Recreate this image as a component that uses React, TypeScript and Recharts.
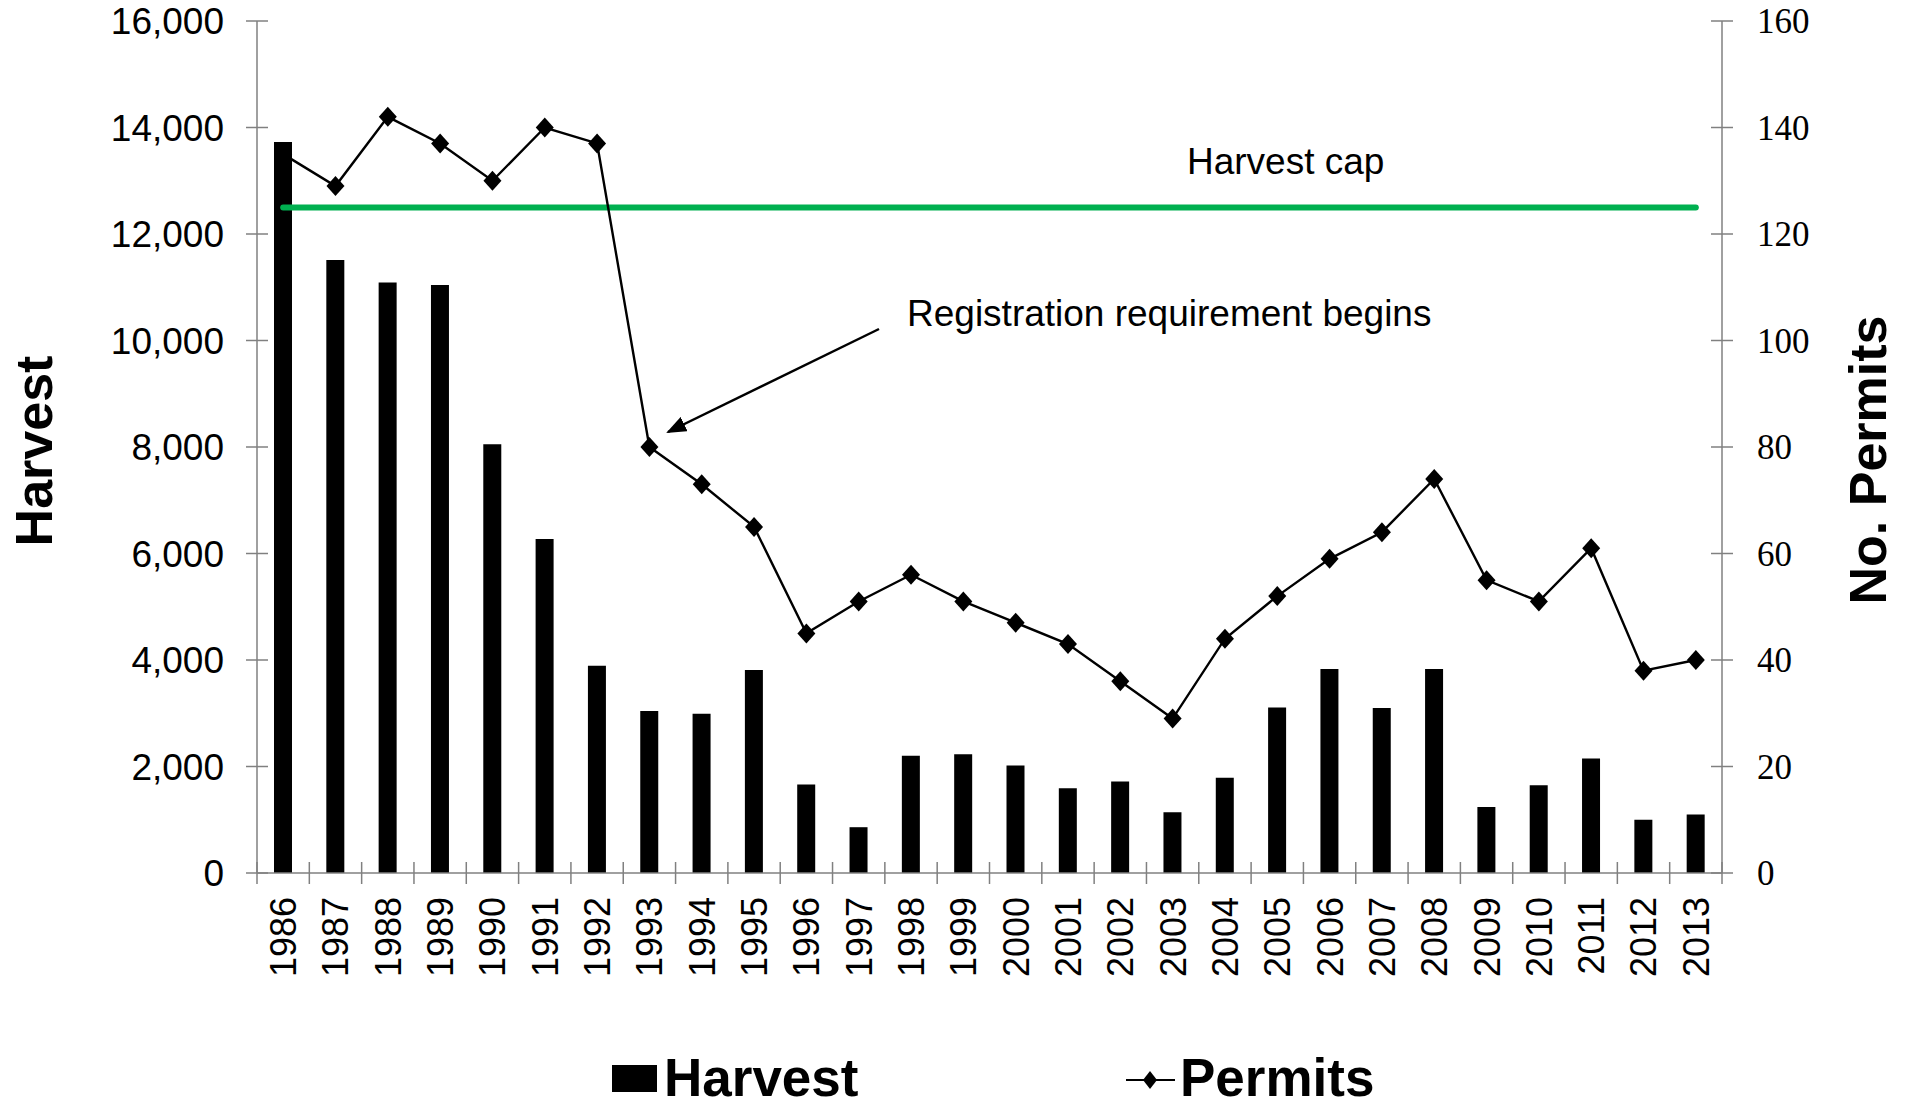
import { ComposedChart, Bar, Line, XAxis, YAxis, Legend } from 'recharts'

// Annual values
const years = [
  '1986', '1987', '1988', '1989', '1990', '1991', '1992', '1993', '1994', '1995',
  '1996', '1997', '1998', '1999', '2000', '2001', '2002', '2003', '2004', '2005',
  '2006', '2007', '2008', '2009', '2010', '2011', '2012', '2013'
]
const harvest = [
  13730, 11510, 11090, 11040, 8050, 6270, 3890, 3040, 2990, 3810,
  1660, 860, 2200, 2230, 2020, 1590, 1720, 1140, 1790, 3110,
  3830, 3100, 3830, 1240, 1650, 2150, 1000, 1100
]
const permits = [
  135, 129, 142, 137, 130, 140, 137, 80, 73, 65,
  45, 51, 56, 51, 47, 43, 36, 29, 44, 52,
  59, 64, 74, 55, 51, 61, 38, 40
]
const harvestCap = 12500
const harvestTicks = [0, 2000, 4000, 6000, 8000, 10000, 12000, 14000, 16000]
const permitTicks = [0, 20, 40, 60, 80, 100, 120, 140, 160]

const data = years.map((year, i) => ({
  year,
  harvest: harvest[i],
  permits: permits[i],
  cap: harvestCap
}))

const W = 1909
const H = 1107
const LEFT_W = 257
const RIGHT_W = 187
const TOP = 21
const X_H = 174
const LEGEND_H = 60
const band = (W - LEFT_W - RIGHT_W) / years.length
const plotBottom = H - X_H - LEGEND_H

const AXIS = '#808080'
const SANS = '"Liberation Sans", Arial, sans-serif'
const SERIF = '"Liberation Serif", "Times New Roman", serif'

function LeftTick({ x, y, payload }: any) {
  return (
    <g>
      <line x1={x - 11} x2={x + 11} y1={y} y2={y} stroke={AXIS} strokeWidth={1.5} />
      <text x={x - 33} y={y} dy={13} textAnchor="end" fontFamily={SANS} fontSize={37} fill="#000">
        {Number(payload.value).toLocaleString('en-US')}
      </text>
    </g>
  )
}

function RightTick({ x, y, payload }: any) {
  return (
    <g>
      <line x1={x - 11} x2={x + 11} y1={y} y2={y} stroke={AXIS} strokeWidth={1.5} />
      <text x={x + 35} y={y} dy={12} textAnchor="start" fontFamily={SERIF} fontSize={35} fill="#000">
        {payload.value}
      </text>
    </g>
  )
}

function YearTick({ x, y, payload, index }: any) {
  const left = x - band / 2
  const ty = y + 24
  return (
    <g>
      <line x1={left} x2={left} y1={y - 11} y2={y + 11} stroke={AXIS} strokeWidth={1.5} />
      {index === years.length - 1 && (
        <line x1={x + band / 2} x2={x + band / 2} y1={y - 11} y2={y + 11} stroke={AXIS} strokeWidth={1.5} />
      )}
      <text
        x={x}
        y={ty}
        dy="0.36em"
        transform={`rotate(-90, ${x}, ${ty})`}
        textAnchor="end"
        fontFamily={SANS}
        fontSize={36}
        fill="#000"
      >
        {payload.value}
      </text>
    </g>
  )
}

function Diamond({ cx, cy }: any) {
  if (cx == null || cy == null) return null
  return (
    <polygon
      points={`${cx},${cy - 10} ${cx + 9},${cy} ${cx},${cy + 10} ${cx - 9},${cy}`}
      fill="#000"
    />
  )
}

function LegendBox() {
  return (
    <svg width={W} height={LEGEND_H} style={{ display: 'block' }}>
      <rect x={612} y={18} width={45} height={27} fill="#000" />
      <text x={664} y={49} fontFamily={SANS} fontWeight="bold" fontSize={53} fill="#000">
        Harvest
      </text>
      <line x1={1126} x2={1175} y1={33} y2={33} stroke="#000" strokeWidth={2} />
      <polygon points="1150,24 1157,33 1150,42 1143,33" fill="#000" />
      <text x={1180} y={49} fontFamily={SANS} fontWeight="bold" fontSize={53} fill="#000">
        Permits
      </text>
    </svg>
  )
}

export default function App() {
  const midY = (TOP + plotBottom) / 2
  return (
    <div style={{ position: 'absolute', left: 0, top: 0, width: W, height: H, background: '#fff' }}>
      <ComposedChart
        width={W}
        height={H}
        data={data}
        margin={{ top: TOP, right: 0, bottom: 0, left: 0 }}
      >
        <XAxis
          dataKey="year"
          interval={0}
          height={X_H}
          tickSize={0}
          tickMargin={0}
          tickLine={false}
          axisLine={{ stroke: AXIS, strokeWidth: 1.5 }}
          tick={<YearTick />}
        />
        <YAxis
          yAxisId="left"
          orientation="left"
          width={LEFT_W}
          domain={[0, 16000]}
          ticks={harvestTicks}
          tickSize={0}
          tickMargin={0}
          tickLine={false}
          axisLine={{ stroke: AXIS, strokeWidth: 1.5 }}
          tick={<LeftTick />}
        />
        <YAxis
          yAxisId="right"
          orientation="right"
          width={RIGHT_W}
          domain={[0, 160]}
          ticks={permitTicks}
          tickSize={0}
          tickMargin={0}
          tickLine={false}
          axisLine={{ stroke: AXIS, strokeWidth: 1.5 }}
          tick={<RightTick />}
        />
        <Legend verticalAlign="bottom" height={LEGEND_H} content={<LegendBox />} />
        <Bar yAxisId="left" dataKey="harvest" fill="#000" barSize={18} isAnimationActive={false} />
        <Line
          yAxisId="left"
          dataKey="cap"
          stroke="#00B050"
          strokeWidth={6}
          strokeLinecap="round"
          dot={false}
          activeDot={false}
          isAnimationActive={false}
        />
        <Line
          yAxisId="right"
          dataKey="permits"
          stroke="#000"
          strokeWidth={2.4}
          dot={(p: any) => <Diamond key={p.index} cx={p.cx} cy={p.cy} />}
          activeDot={false}
          isAnimationActive={false}
        />
      </ComposedChart>
      <svg
        width={W}
        height={H}
        style={{ position: 'absolute', left: 0, top: 0, pointerEvents: 'none' }}
      >
        <defs>
          <marker
            id="arrowHead"
            markerWidth="20"
            markerHeight="16"
            refX="18"
            refY="8"
            orient="auto"
            markerUnits="userSpaceOnUse"
          >
            <polygon points="0,0 20,8 0,16" fill="#000" />
          </marker>
        </defs>
        <text
          x={33}
          y={midY + 4}
          dy="0.36em"
          transform={`rotate(-90, 33, ${midY + 4})`}
          textAnchor="middle"
          fontFamily={SANS}
          fontWeight="bold"
          fontSize={52}
          fill="#000"
        >
          Harvest
        </text>
        <text
          x={1867}
          y={midY + 13}
          dy="0.36em"
          transform={`rotate(-90, 1867, ${midY + 13})`}
          textAnchor="middle"
          fontFamily={SANS}
          fontWeight="bold"
          fontSize={52}
          fill="#000"
        >
          No. Permits
        </text>
        <text x={1187} y={174} fontFamily={SANS} fontSize={37} fill="#000">
          Harvest cap
        </text>
        <text x={907} y={326} fontFamily={SANS} fontSize={37} fill="#000">
          Registration requirement begins
        </text>
        <line
          x1={879}
          y1={329}
          x2={668}
          y2={432}
          stroke="#000"
          strokeWidth={2.5}
          markerEnd="url(#arrowHead)"
        />
      </svg>
    </div>
  )
}
